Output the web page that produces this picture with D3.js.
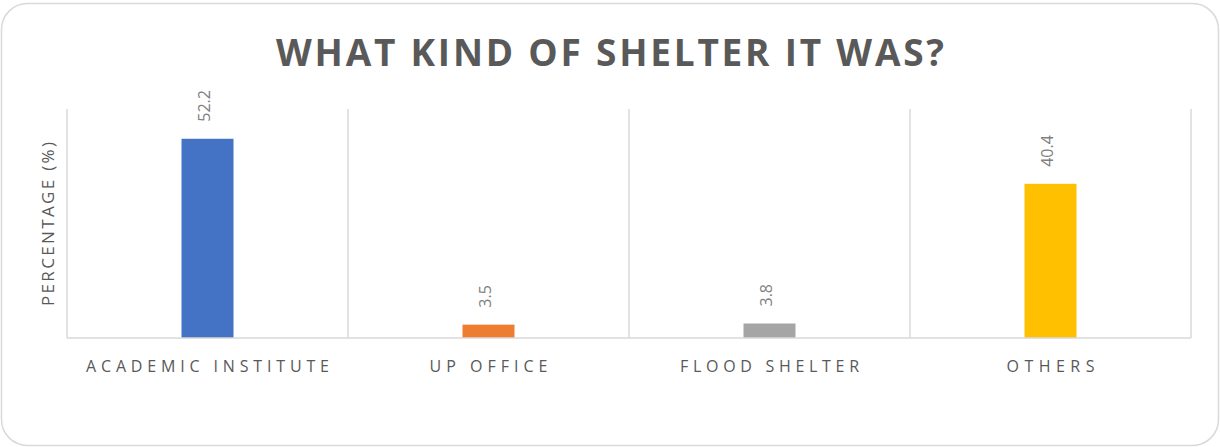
<!DOCTYPE html>
<html>
<head>
<meta charset="utf-8">
<script src="https://cdn.jsdelivr.net/npm/d3@7"></script>
<style>
  body { margin: 0; background: #fff; }
  svg { display: block; font-family: "Open Sans", "Noto Sans", sans-serif; }
</style>
</head>
<body>
<div id="container"></div>
<script>
// data
const categories = ['ACADEMIC INSTITUTE', 'UP OFFICE', 'FLOOD SHELTER', 'OTHERS'];
const values = [52.2, 3.5, 3.8, 40.4];
const colors = ['#4472C4', '#ED7D31', '#A5A5A5', '#FFC000'];
const yDomain = [0, 60];
const labelWidths = [243, 118, 179, 88]; // measured text widths of the category labels

const width = 1220, height = 447;
const margin = {top: 109, right: 29, bottom: 109, left: 67};

const svg = d3.select('#container')
  .append('svg')
  .attr('width', width)
  .attr('height', height);

// chart frame
svg.append('rect')
  .attr('x', 1.5).attr('y', 3.5)
  .attr('width', 1217).attr('height', 442)
  .attr('rx', 26).attr('ry', 26)
  .attr('fill', '#fff')
  .attr('stroke', '#d9d9d9')
  .attr('stroke-width', 1.5);

const x = d3.scaleBand()
  .domain(categories)
  .range([margin.left, width - margin.right]);

const y = d3.scaleLinear()
  .domain(yDomain)
  .range([height - margin.bottom, margin.top]);

const barW = 52;

// vertical separators between categories
const seps = categories.map(c => x(c)).concat([x.range()[1]]);
svg.append('g')
  .selectAll('line')
  .data(seps)
  .join('line')
  .attr('x1', d => d).attr('x2', d => d)
  .attr('y1', y(yDomain[1])).attr('y2', y(0))
  .attr('stroke', '#d9d9d9')
  .attr('stroke-width', 1.5);

// bars
svg.append('g')
  .selectAll('rect')
  .data(values)
  .join('rect')
  .attr('x', (d, i) => x(categories[i]) + x.bandwidth() / 2 - barW / 2)
  .attr('y', d => y(d))
  .attr('width', barW)
  .attr('height', d => y(0) - y(d))
  .attr('fill', (d, i) => colors[i]);

// baseline
svg.append('line')
  .attr('x1', x.range()[0]).attr('x2', x.range()[1])
  .attr('y1', y(0)).attr('y2', y(0))
  .attr('stroke', '#d9d9d9')
  .attr('stroke-width', 1.5);

// data labels, rotated
svg.append('g')
  .selectAll('text')
  .data(values)
  .join('text')
  .attr('transform', (d, i) => `translate(${x(categories[i]) + x.bandwidth() / 2 + 2},${y(d) - 17}) rotate(-90)`)
  .attr('text-anchor', 'start')
  .attr('font-size', 16)
  .attr('fill', '#7f7f7f')
  .text(d => d);

// category labels
svg.append('g')
  .selectAll('text')
  .data(categories)
  .join('text')
  .attr('x', d => x(d) + x.bandwidth() / 2 - labelWidths[categories.indexOf(d)] / 2)
  .attr('y', 372)
  .attr('font-size', 16)
  .attr('fill', '#595959')
  .attr('textLength', (d, i) => labelWidths[i])
  .attr('lengthAdjust', 'spacing')
  .text(d => d);

// y axis title
svg.append('text')
  .attr('transform', 'translate(54,224) rotate(-90)')
  .attr('x', -82)
  .attr('font-size', 17)
  .attr('fill', '#595959')
  .attr('textLength', 164)
  .attr('lengthAdjust', 'spacing')
  .text('PERCENTAGE (%)');

// title
svg.append('text')
  .attr('x', 276)
  .attr('y', 66)
  .attr('font-size', 37)
  .attr('font-weight', 'bold')
  .attr('fill', '#595959')
  .attr('textLength', 668)
  .attr('lengthAdjust', 'spacing')
  .text('WHAT KIND OF SHELTER IT WAS?');
</script>
</body>
</html>
